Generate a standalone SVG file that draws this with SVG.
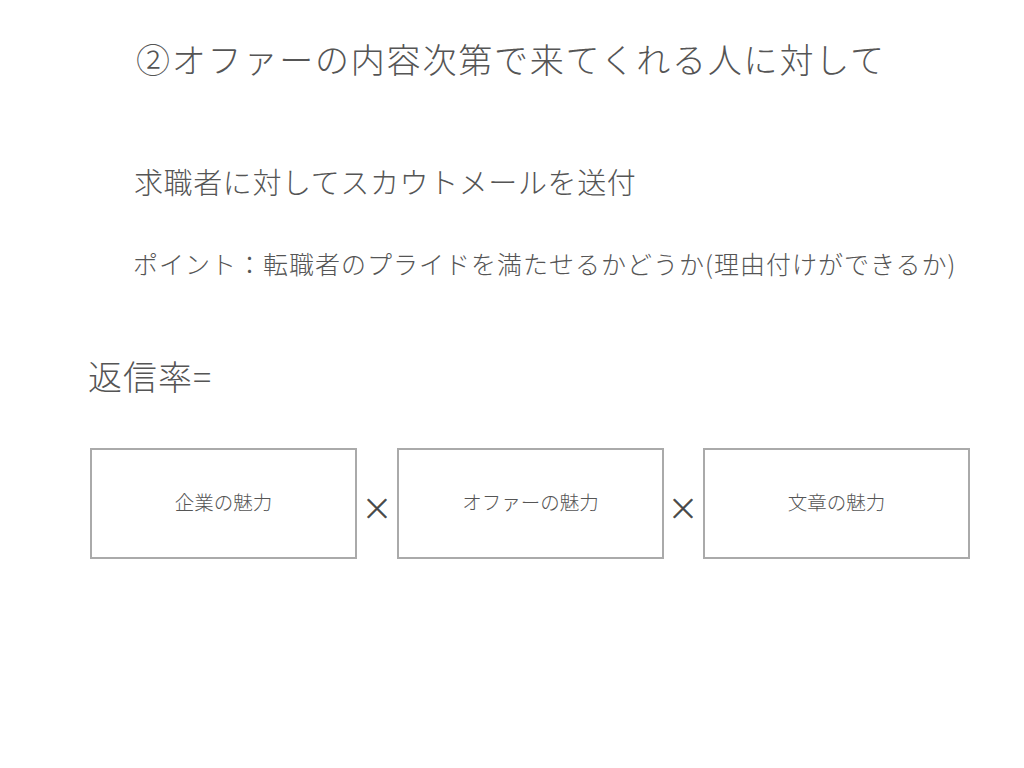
<svg xmlns="http://www.w3.org/2000/svg" width="1024" height="768" viewBox="0 0 1024 768">
<style>
text{font-family:"Noto Sans CJK JP","Noto Sans",sans-serif;fill:#555;font-weight:300}
.box{fill:#fff;stroke:#aaa;stroke-width:2}
.lbl{font-size:19.5px;text-anchor:middle}
.op{font-size:30px;text-anchor:middle;fill:#444;stroke:#444;stroke-width:0.6}
</style>
<rect width="1024" height="768" fill="#fff"/>
<text x="136" y="73" font-size="34" letter-spacing="1.8">②オファーの内容次第で来てくれる人に対して</text>
<text x="134" y="194" font-size="29" letter-spacing="0.6">求職者に対してスカウトメールを送付</text>
<text x="133" y="274" font-size="25" letter-spacing="1">ポイント：転職者のプライドを満たせるかどうか(理由付けができるか)</text>
<text x="88" y="390" font-size="34" letter-spacing="1">返信率=</text>
<g id="node1"><rect class="box" x="91" y="449" width="265" height="109"/><text class="lbl" x="223.5" y="510">企業の魅力</text></g>
<g id="node2"><rect class="box" x="398" y="449" width="265" height="109"/><text class="lbl" x="530.5" y="510">オファーの魅力</text></g>
<g id="node3"><rect class="box" x="704" y="449" width="265" height="109"/><text class="lbl" x="836.5" y="510">文章の魅力</text></g>
<g id="connectors">
<text class="op" x="377" y="519">×</text>
<text class="op" x="683" y="519">×</text>
</g>
</svg>
